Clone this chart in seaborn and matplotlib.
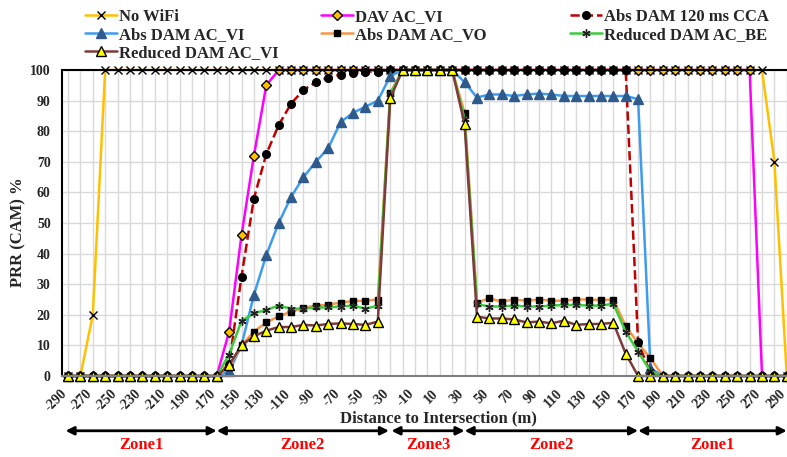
import seaborn as sns
import pandas as pd
import numpy as np
import matplotlib.pyplot as plt
import matplotlib.transforms as mtransforms

# distance to intersection (m)
distance = [-290, -280, -270, -260, -250, -240, -230, -220, -210, -200,
            -190, -180, -170, -160, -150, -140, -130, -120, -110, -100,
            -90, -80, -70, -60, -50, -40, -30, -20, -10, 0,
            10, 20, 30, 40, 50, 60, 70, 80, 90, 100,
            110, 120, 130, 140, 150, 160, 170, 180, 190, 200,
            210, 220, 230, 240, 250, 260, 270, 280, 290]

no_wifi = [0, 0, 20, 100, 100, 100, 100, 100, 100, 100,
           100, 100, 100, 100, 100, 100, 100, 100, 100, 100,
           100, 100, 100, 100, 100, 100, 100, 100, 100, 100,
           100, 100, 100, 100, 100, 100, 100, 100, 100, 100,
           100, 100, 100, 100, 100, 100, 100, 100, 100, 100,
           100, 100, 100, 100, 100, 100, 100, 70, 0]

dav_ac_vi = [0, 0, 0, 0, 0, 0, 0, 0, 0, 0,
             0, 0, 0, 14.5, 46, 72, 95, 100, 100, 100,
             100, 100, 100, 100, 100, 100, 100, 100, 100, 100,
             100, 100, 100, 100, 100, 100, 100, 100, 100, 100,
             100, 100, 100, 100, 100, 100, 100, 100, 100, 100,
             100, 100, 100, 100, 100, 100, 0, 0, 0]

abs_120_cca = [0, 0, 0, 0, 0, 0, 0, 0, 0, 0,
               0, 0, 0, 4, 32.5, 58, 72.5, 82, 89, 93.5,
               96, 97.5, 98.5, 99, 99.5, 99.5, 100, 100, 100, 100,
               100, 100, 100, 100, 100, 100, 100, 100, 100, 100,
               100, 100, 100, 100, 100, 100, 11, 1, 0, 0,
               0, 0, 0, 0, 0, 0, 0, 0, 0]

abs_ac_vi = [0, 0, 0, 0, 0, 0, 0, 0, 0, 0,
             0, 0, 0, 1.5, 10, 26.5, 39.5, 50, 58.5, 65,
             70, 74.5, 83, 86, 88, 90, 98, 100, 100, 100,
             100, 100, 96, 91, 92, 92, 91.5, 92, 92.3, 92,
             91.5, 91.5, 91.5, 91.5, 91.5, 91.5, 90.5, 2.5, 0, 0,
             0, 0, 0, 0, 0, 0, 0, 0, 0]

abs_ac_vo = [0, 0, 0, 0, 0, 0, 0, 0, 0, 0,
             0, 0, 0, 3, 10, 14.5, 17.5, 19.5, 21, 22.3,
             23, 23.3, 24, 24.5, 24.6, 25, 92.5, 100, 100, 100,
             100, 100, 86, 24, 25.4, 24.3, 25, 24.6, 25, 24.6,
             24.6, 25, 25, 24.8, 25, 16.3, 10.7, 5.8, 0, 0,
             0, 0, 0, 0, 0, 0, 0, 0, 0]

red_ac_be = [0, 0, 0, 0, 0, 0, 0, 0, 0, 0,
             0, 0, 0, 7, 18, 20.5, 21.6, 23, 22, 22,
             22.4, 22.4, 22.7, 23, 22, 23, 92, 100, 100, 100,
             100, 100, 84, 23.5, 22.7, 22.7, 23, 22.7, 22.7, 23,
             23.2, 23.2, 23, 23, 23.6, 14.5, 8, 1.5, 0, 0,
             0, 0, 0, 0, 0, 0, 0, 0, 0]

red_ac_vi = [0, 0, 0, 0, 0, 0, 0, 0, 0, 0,
             0, 0, 0, 3.6, 10, 13, 14.8, 16, 16, 16.7,
             16.5, 17, 17.2, 17, 16.7, 17.8, 90.7, 100, 100, 100,
             100, 100, 82.3, 19.4, 18.8, 18.8, 18.5, 17.5, 17.8, 17.2,
             18.1, 16.7, 17, 17, 17.4, 7.3, 0, 0, 0, 0,
             0, 0, 0, 0, 0, 0, 0, 0, 0]

zones = [(-292, -170, "Zone1"), (-170, -31, "Zone2"), (-29, 30, "Zone3"),
         (30, 170, "Zone2"), (170, 290, "Zone1")]

sns.set_theme(style="white")
plt.rcParams['font.family'] = ['Liberation Serif', 'DejaVu Serif']
plt.rcParams['font.weight'] = 'bold'
plt.rcParams['axes.unicode_minus'] = False

df = pd.DataFrame({"distance": distance,
                   "No WiFi": no_wifi,
                   "DAV AC_VI": dav_ac_vi,
                   "Abs DAM 120 ms CCA": abs_120_cca,
                   "Abs DAM AC_VI": abs_ac_vi,
                   "Abs DAM AC_VO": abs_ac_vo,
                   "Reduced DAM AC_BE": red_ac_be,
                   "Reduced DAM AC_VI": red_ac_vi})

# line colour, linestyle, marker, face, edge, size
styles = {
    "No WiFi": ("#FFC000", "-", "x", "black", "black", 6),
    "DAV AC_VI": ("#FF00FF", "-", "D", "#FFC000", "black", 5.5),
    "Abs DAM 120 ms CCA": ("#C00000", "--", "o", "black", "black", 5.5),
    "Abs DAM AC_VI": ("#3D9BF0", "-", "^", "#2F5A8C", "#2F5A8C", 7),
    "Abs DAM AC_VO": ("#F79646", "-", "s", "black", "black", 5),
    "Reduced DAM AC_BE": ("#3CCB3C", "-", (6, 2, 0), "#222222", "#222222", 6),
    "Reduced DAM AC_VI": ("#7F3A3A", "-", "^", "#FFFF00", "black", 7),
}

fig = plt.figure(figsize=(7.87, 4.57), dpi=100)
ax = fig.add_axes([61.8 / 787, 81 / 457, 731.2 / 787, 306 / 457])

for name, (col, ls, mk, fc, ec, ms) in styles.items():
    sns.lineplot(data=df, x="distance", y=name, ax=ax, color=col, linestyle=ls,
                 linewidth=1.8, marker=mk, markerfacecolor=fc, markeredgecolor=ec,
                 markeredgewidth=1, markersize=ms, label=name, legend=False,
                 clip_on=False)

ax.set_xlim(-295, 295)
ax.set_ylim(0, 100)
ax.set_xticks(distance[::2])
ax.set_xticks(distance[1::2], minor=True)
ax.set_yticks(range(0, 101, 10))
ax.set_axisbelow(True)
ax.grid(True, which="both", color="#D9D9D9", linewidth=1)
ax.tick_params(axis="both", which="both", length=0)
ax.tick_params(axis="y", labelsize=10, pad=8)
ax.tick_params(axis="x", labelsize=10, pad=8)
shift = mtransforms.ScaledTranslation(1.5 / 100, 0, fig.dpi_scale_trans)
for lab in ax.get_xticklabels():
    lab.set_rotation(45)
    lab.set_ha("right")
    lab.set_va("top")
    lab.set_fontweight("bold")
    lab.set_transform(lab.get_transform() + shift)
for lab in ax.get_yticklabels():
    lab.set_fontweight("bold")

for s in ["left", "top"]:
    ax.spines[s].set_color("black")
    ax.spines[s].set_linewidth(1.5)
ax.spines["bottom"].set_color("#7F7F7F")
ax.spines["bottom"].set_linewidth(1.5)
ax.spines["right"].set_visible(False)

ax.set_xlabel("Distance to Intersection (m)", fontsize=12, fontweight="bold")
ax.xaxis.label.set_va("center")
ax.xaxis.set_label_coords(0.5145, -0.137)
ax.set_ylabel("PRR (CAM) %", fontsize=12, fontweight="bold")
ax.yaxis.label.set_va("center")
ax.yaxis.set_label_coords(-0.06, 0.47)

trans = mtransforms.blended_transform_factory(ax.transData, ax.transAxes)
for x0, x1, name in zones:
    ax.annotate("", xy=(x0, -0.179), xytext=(x1, -0.179), xycoords=trans,
                textcoords=trans, annotation_clip=False,
                arrowprops=dict(arrowstyle="<|-|>", color="black", lw=2,
                                shrinkA=0, shrinkB=0, mutation_scale=12))
    ax.text((x0 + x1) / 2, -0.2255, name, transform=trans, ha="center",
            va="center", color="red", fontsize=12, fontweight="bold")

handles, labels = ax.get_legend_handles_labels()
lookup = dict(zip(labels, handles))
columns = [(["No WiFi", "Abs DAM AC_VI", "Reduced DAM AC_VI"], 85),
           (["DAV AC_VI", "Abs DAM AC_VO"], 321),
           (["Abs DAM 120 ms CCA", "Reduced DAM AC_BE"], 570)]
for names, xpos in columns:
    fig.legend([lookup[n] for n in names], names, loc="upper left",
               bbox_to_anchor=(xpos / 787, 448 / 457), frameon=False,
               prop={"family": "Liberation Serif", "weight": "bold", "size": 12},
               handlelength=1.9, handletextpad=0.15, labelspacing=0.13,
               borderpad=0, borderaxespad=0)

fig.savefig("out.png", dpi=100)
